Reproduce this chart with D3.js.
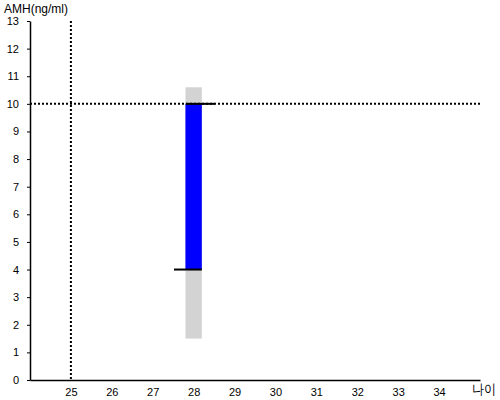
<!DOCTYPE html>
<html>
<head>
<meta charset="utf-8">
<script src="https://cdn.jsdelivr.net/npm/d3@7"></script>
<style>
  body { margin: 0; background: #fff; }
  text { font-family: Arial, "Liberation Sans", sans-serif; }
</style>
</head>
<body>
<div id="chart"></div>
<script>
// Chart data
const xTicks = [25, 26, 27, 28, 29, 30, 31, 32, 33, 34];
const yTicks = [0, 1, 2, 3, 4, 5, 6, 7, 8, 9, 10, 11, 12, 13];
const refAge = 25;
const refAmh = 10;
// range band (grey) and measured span (blue) at age 28
const bandAge = 28;
const bandHalf = 0.2;
const greyRange = [1.5, 10.6];
const blueRange = [4, 10];
// black markers: [value, xStart, xEnd]
const markers = [[10, 27.81, 28.52], [4, 27.52, 28.2]];

const width = 500, height = 400;
const margin = { top: 21, right: 20, bottom: 20, left: 30 };

const svg = d3.select('#chart').append('svg')
  .attr('width', width)
  .attr('height', height);

const x = d3.scaleLinear().domain([24, 35]).range([margin.left, width - margin.right]);
const y = d3.scaleLinear().domain([0, 13]).range([height - margin.bottom, margin.top]);

// grey band
svg.append('rect')
  .attr('x', x(bandAge - bandHalf))
  .attr('width', x(bandAge + bandHalf) - x(bandAge - bandHalf))
  .attr('y', y(greyRange[1]))
  .attr('height', y(greyRange[0]) - y(greyRange[1]))
  .attr('fill', '#d3d3d3');

// blue bar
svg.append('rect')
  .attr('x', x(bandAge - bandHalf))
  .attr('width', x(bandAge + bandHalf) - x(bandAge - bandHalf))
  .attr('y', y(blueRange[1]))
  .attr('height', y(blueRange[0]) - y(blueRange[1]))
  .attr('fill', '#0000ff');

// reference dotted lines
svg.append('line')
  .attr('x1', x(refAge)).attr('x2', x(refAge))
  .attr('y1', y(13)).attr('y2', y(0))
  .attr('stroke', '#000').attr('stroke-width', 2)
  .attr('stroke-dasharray', '2,2');

svg.append('line')
  .attr('x1', x(24)).attr('x2', x(35))
  .attr('y1', y(refAmh)).attr('y2', y(refAmh))
  .attr('stroke', '#000').attr('stroke-width', 2)
  .attr('stroke-dasharray', '2,2');

// black markers
svg.selectAll('.marker')
  .data(markers)
  .enter().append('line')
  .attr('class', 'marker')
  .attr('x1', d => x(d[1])).attr('x2', d => x(d[2]))
  .attr('y1', d => y(d[0])).attr('y2', d => y(d[0]))
  .attr('stroke', '#000').attr('stroke-width', 2);

// axes
const xAxis = svg.append('g')
  .attr('transform', `translate(0,${y(0)})`)
  .call(d3.axisBottom(x).tickValues(xTicks).tickSize(0).tickPadding(8));
xAxis.select('.domain').attr('stroke', '#000').attr('stroke-width', 1.5);
xAxis.selectAll('text').attr('font-size', 11).attr('fill', '#000');

const yAxis = svg.append('g')
  .attr('transform', `translate(${x(24)},0)`)
  .call(d3.axisLeft(y).tickValues(yTicks).tickSize(3).tickSizeOuter(0).tickPadding(8));
yAxis.select('.domain').attr('stroke', '#000').attr('stroke-width', 1.5);
yAxis.selectAll('text').attr('font-size', 11).attr('fill', '#000');

// titles
svg.append('text')
  .attr('x', 4).attr('y', 13)
  .attr('font-size', 12)
  .text('AMH(ng/ml)');

svg.append('text')
  .attr('x', 472).attr('y', 394)
  .attr('font-size', 14)
  .attr('textLength', 24)
  .attr('lengthAdjust', 'spacingAndGlyphs')
  .text('나이');
</script>
</body>
</html>
